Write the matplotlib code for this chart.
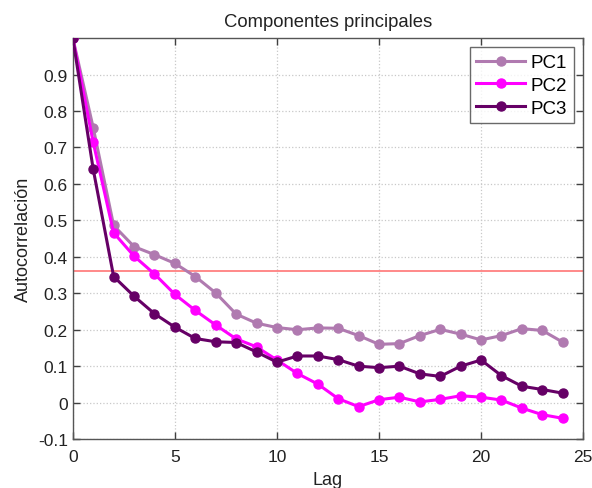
import matplotlib
matplotlib.use("Agg")
import matplotlib.pyplot as plt
import numpy as np

lags = list(range(25))
pc1 = [1.0, 0.754, 0.486, 0.428, 0.406, 0.382, 0.346, 0.301, 0.243, 0.218, 0.206, 0.200, 0.205,
       0.204, 0.184, 0.160, 0.162, 0.184, 0.201, 0.188, 0.172, 0.184, 0.203, 0.198, 0.166]
pc2 = [1.0, 0.714, 0.466, 0.402, 0.353, 0.297, 0.253, 0.213, 0.175, 0.153, 0.117, 0.080, 0.051,
       0.011, -0.011, 0.008, 0.015, 0.002, 0.009, 0.019, 0.015, 0.007, -0.015, -0.033, -0.043]
pc3 = [1.0, 0.640, 0.346, 0.292, 0.244, 0.207, 0.176, 0.167, 0.165, 0.139, 0.111, 0.128, 0.128,
       0.118, 0.100, 0.096, 0.100, 0.079, 0.072, 0.100, 0.117, 0.074, 0.045, 0.036, 0.026]
threshold = 0.361
labels = ["PC1", "PC2", "PC3"]
colors = ["#B07AB0", "#FF00FF", "#660066"]
xticks = [0, 5, 10, 15, 20, 25]
yticks = [-0.1, 0, 0.1, 0.2, 0.3, 0.4, 0.5, 0.6, 0.7, 0.8, 0.9]
ytick_labels = ["-0.1", "0", "0.1", "0.2", "0.3", "0.4", "0.5", "0.6", "0.7", "0.8", "0.9"]

plt.rcParams['font.family'] = ['Liberation Sans', 'DejaVu Sans']
fig = plt.figure(figsize=(5.92, 4.89), dpi=100)
ax = fig.add_axes([0.123, 0.100, 0.862, 0.820])

for vals, lab, col in zip([pc1, pc2, pc3], labels, colors):
    ax.plot(lags, vals, '-o', color=col, lw=2.2, ms=6.5, label=lab, zorder=3)

ax.axhline(threshold, color="#FF8080", lw=1.3, zorder=2)

ax.set_xlim(0, 25)
ax.set_ylim(-0.1, 1.0)
ax.set_xticks(xticks)
ax.set_yticks(yticks)
ax.set_yticklabels(ytick_labels)
ax.tick_params(direction='in', top=True, right=True, labelsize=12.5, colors="#404040",
               labelcolor="#222222", length=5, width=1)
ax.tick_params(axis='x', pad=7)
ax.grid(True, linestyle=':', color="#C8C8C8", lw=0.9)
for s in ax.spines.values():
    s.set_color("#555555")
    s.set_linewidth(1)

ax.set_xlabel("Lag", fontsize=13, color="#222222", labelpad=5)
ax.set_ylabel("Autocorrelación", fontsize=13, color="#222222", labelpad=4)
ax.set_title("Componentes principales", fontsize=13.3, color="#222222", pad=9)

leg = ax.legend(loc='upper right', fontsize=13.5, frameon=True, fancybox=False,
                edgecolor="#444444", borderpad=0.35, handlelength=2.6, handletextpad=0.3,
                labelspacing=0.3, borderaxespad=0.5)
leg.get_frame().set_linewidth(1)

fig.savefig("out.png", dpi=100)
